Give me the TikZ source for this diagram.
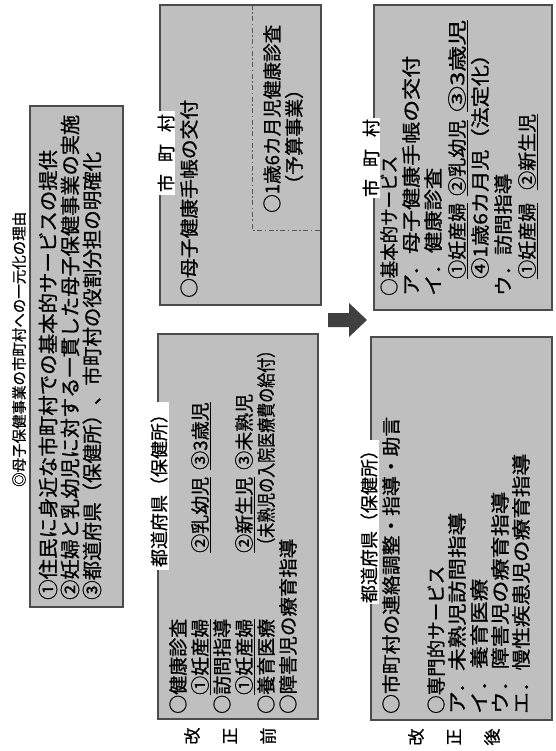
\documentclass[tikz,border=0pt]{standalone}
\usepackage{fontspec}
\setmainfont{Noto Sans CJK JP}
\newfontfamily\jp{Noto Sans CJK JP}[FakeBold=0.8]
\usepackage{graphicx}
\newcommand\fitw[2]{\resizebox{#1pt}{\height}{#2}}
\begin{document}
\begin{tikzpicture}[x=1pt,y=-1pt,
  box/.style={draw=black!70, line width=1.2pt, fill=black!25},
  tx/.style={rotate=90, anchor=west, inner sep=0pt, font=\jp\fontsize{19}{19}\selectfont},
  bigtx/.style={tx, font=\jp\fontsize{20}{20}\selectfont},
  ttl/.style={tx, font=\jp\fontsize{15}{15}\selectfont},
  lbl/.style={rotate=90, fill=white, inner xsep=3pt, inner ysep=1pt, font=\jp\fontsize{18}{18}\selectfont},
  sidelbl/.style={rotate=90, inner sep=0pt, font=\jp\fontsize{17}{17}\selectfont},
  uline/.style={line width=1.1pt},
  ddline/.style={line width=1pt, draw=black!65, dash pattern=on 5pt off 2.5pt on 1.5pt off 2.5pt},
  arrowfill/.style={fill=black!75},
]
\useasboundingbox (0,0) rectangle (555,751);
\fill[white] (0,0) rectangle (555,751);

% title and reasons
\node[ttl] (title) at (19,487) {\fitw{275}{◎母子保健事業の市町村への一元化の理由}};
\draw[box] (30,106) rectangle (123,607);
\node[bigtx] (r1) at (48,600) {\fitw{450}{①住民に身近な市町村での基本的サービスの提供}};
\node[bigtx] (r2) at (70,600) {\fitw{485}{②妊婦と乳幼児に対する一貫した母子保健事業の実施}};
\node[bigtx] (r3) at (92,600) {\fitw{448}{③都道府県（保健所）、市町村の役割分担の明確化}};

% before: municipality
\draw[box] (160,5) rectangle (321,305);
\draw[ddline] (252,5) -- (252,230) -- (321,230);
\node[lbl] (bm) at (166,153) {市\hspace{12pt}町\hspace{12pt}村};
\node[tx] (bm1) at (189,298) {\fitw{198}{○母子健康手帳の交付}};
\node[tx] (bm2) at (272,213) {\fitw{188}{○1歳6カ月児健康診査}};
\node[tx] (bm3) at (294,194) {（予算事業）};

% before: prefecture
\draw[box] (158,334) rectangle (318,719);
\node[lbl] (bp) at (159,486) {都道府県（保健所）};
\node[tx] (bp1) at (178,714) {○健康診査};
\node[tx] (bp2a) at (200,695) {①妊産婦};
\node[tx] (bp2b) at (200,553) {②乳幼児};
\node[tx] (bp2c) at (200,470) {③3歳児};
\node[tx] (bp3) at (222,714) {○訪問指導};
\node[tx] (bp4a) at (244,695) {①妊産婦};
\node[tx] (bp4b) at (244,553) {②新生児};
\node[tx] (bp4c) at (244,470) {③未熟児};
\node[tx] (bp5a) at (266,714) {○養育医療};
\node[tx] (bp5b) at (266,553) {\fitw{210}{（未熟児の入院医療費の給付）}};
\node[tx] (bp6) at (288,714) {\fitw{175}{○障害児の療育指導}};
\foreach \n in {bp2a,bp2b,bp2c,bp4a,bp4b}
  \draw[uline] ([xshift=1.8pt]\n.south west) -- ([xshift=1.8pt]\n.south east);

% arrow
\fill[arrowfill] (328,313) -- (349,313) -- (349,303) -- (367,320) -- (349,337) -- (349,327) -- (328,327) -- cycle;

% after: municipality
\draw[box] (374,5) rectangle (552,310);
\node[lbl, inner xsep=1pt] (am) at (371,158) {市\hspace{12pt}町\hspace{12pt}村};
\node[tx] (am1) at (389,296) {\fitw{140}{○基本的サービス}};
\node[tx] (am2) at (411,296) {\fitw{240}{ア．母子健康手帳の交付}};
\node[tx] (am3) at (433,296) {\fitw{128}{イ．健康診査}};
\node[tx] (am4a) at (457,279) {\fitw{76}{①妊産婦}};
\node[tx] (am4b) at (457,196) {\fitw{76}{②乳幼児}};
\node[tx] (am4c) at (457,112) {\fitw{92}{③3歳児}};
\node[tx] (am5) at (480,279) {\fitw{235}{④1歳6カ月児（法定化）}};
\node[tx] (am6) at (503,296) {\fitw{122}{ウ．訪問指導}};
\node[tx] (am7a) at (527,279) {\fitw{76}{①妊産婦}};
\node[tx] (am7b) at (527,190) {\fitw{76}{②新生児}};
\foreach \n in {am4a,am4b,am4c,am7a,am7b}
  \draw[uline] ([xshift=1.8pt]\n.south west) -- ([xshift=1.8pt]\n.south east);

% after: prefecture
\draw[box] (371,337) rectangle (552,720);
\node[lbl, inner xsep=1pt] (ap) at (369,522) {都道府県（保健所）};
\node[tx] (ap1) at (391,714) {\fitw{297}{○市町村の連絡調整・指導・助言}};
\node[tx] (ap2) at (436,714) {\fitw{148}{○専門的サービス}};
\node[tx] (ap3) at (457,714) {\fitw{201}{ア．未熟児訪問指導}};
\node[tx] (ap4) at (479,714) {\fitw{135}{イ．養育医療}};
\node[tx] (ap5) at (500,714) {\fitw{222}{ウ．障害児の療育指導}};
\node[tx] (ap6) at (521,714) {\fitw{260}{エ．慢性疾患児の療育指導}};

% side labels
\node[sidelbl] (k1) at (192,736) {改};
\node[sidelbl] (k2) at (230,736) {正};
\node[sidelbl] (k3) at (268,736) {前};
\node[sidelbl] (k4) at (416,737) {改};
\node[sidelbl] (k5) at (454,737) {正};
\node[sidelbl] (k6) at (492,737) {後};
\end{tikzpicture}
\end{document}
